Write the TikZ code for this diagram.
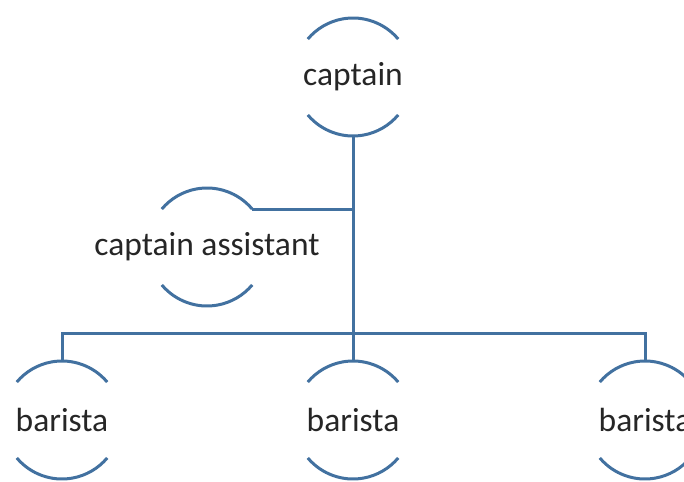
\documentclass[tikz,border=0pt]{standalone}
\usepackage{fontspec}
\setmainfont{Carlito}
\definecolor{lineblue}{RGB}{66,113,160}
\begin{document}
\begin{tikzpicture}[x=1pt,y=-1pt,
  ring/.style={circle,minimum size=118pt,inner sep=0pt,outer sep=0pt,draw=none,
    label={[font=\fontsize{33.5}{40}\selectfont,text=black!85]center:#1}},
  link/.style={draw=lineblue,line width=3pt},
  arcs/.style={draw=lineblue,line width=3pt}]
\useasboundingbox (0,0) rectangle (684,481);
\clip (0,0) rectangle (684,481);
\node[ring=captain] (cap) at (353,77) {};
\node[ring=captain assistant] (asst) at (207,247) {};
\node[ring=barista] (bar1) at (62,420) {};
\node[ring=barista] (bar2) at (353,420) {};
\node[ring=barista] (bar3) at (645,420) {};
\foreach \n in {cap,asst,bar1,bar2,bar3}{
  \draw[arcs] (\n.40) arc[start angle=40,end angle=140,radius=59pt];
  \draw[arcs] (\n.220) arc[start angle=220,end angle=320,radius=59pt];
}
\coordinate (bus) at (353,333);
\draw[link] (cap.south) -- (bar2.north);
\draw[link] (asst.40) -- (asst.40 -| cap.south);
\draw[link] (bar1.north) |- (bus) -| (bar3.north);
\end{tikzpicture}
\end{document}
